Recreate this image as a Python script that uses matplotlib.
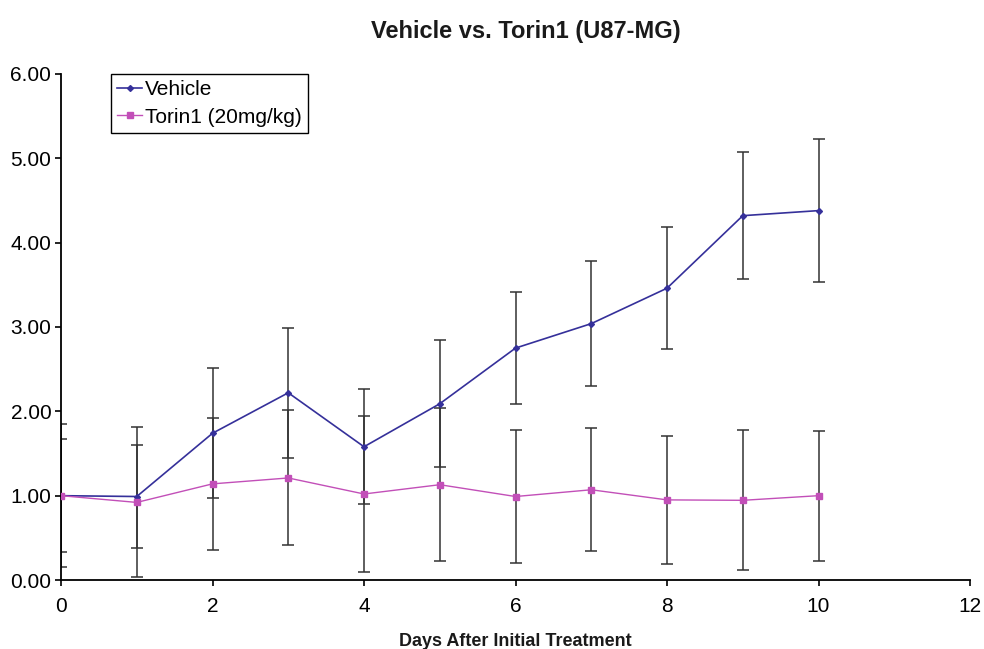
import matplotlib
matplotlib.use("Agg")
import matplotlib.pyplot as plt
import numpy as np

plt.rcParams['font.family'] = ['Liberation Sans', 'DejaVu Sans']

days = [0, 1, 2, 3, 4, 5, 6, 7, 8, 9, 10]
vehicle = [1.00, 0.99, 1.74, 2.22, 1.58, 2.09, 2.75, 3.04, 3.46, 4.32, 4.38]
vehicle_err = [0.85, 0.61, 0.77, 0.77, 0.68, 0.75, 0.66, 0.74, 0.72, 0.75, 0.85]
torin = [1.00, 0.92, 1.14, 1.21, 1.02, 1.13, 0.99, 1.07, 0.95, 0.945, 1.00]
torin_err = [0.67, 0.89, 0.78, 0.80, 0.92, 0.91, 0.79, 0.73, 0.76, 0.83, 0.77]

title = "Vehicle vs. Torin1 (U87-MG)"
xlabel = "Days After Initial Treatment"
xticks = [0, 2, 4, 6, 8, 10, 12]
yticks = [0, 1, 2, 3, 4, 5, 6]

fig = plt.figure(figsize=(9.84, 6.49), dpi=100)
ax = fig.add_axes([0.062, 0.1063, 0.9238, 0.7797])

vcol = '#35309a'
tcol = '#c24fb8'
ax.errorbar(days, vehicle, yerr=vehicle_err, fmt='none', ecolor='#333333',
            elinewidth=1.1, capsize=4, capthick=1.1, zorder=2)
ax.errorbar(days, torin, yerr=torin_err, fmt='none', ecolor='#333333',
            elinewidth=1.1, capsize=4, capthick=1.1, zorder=2)
ax.plot(days, vehicle, color=vcol, lw=1.2, marker='D', markersize=3,
        label='Vehicle', zorder=3)
ax.plot(days, torin, color=tcol, lw=1.0, marker='s', markersize=5,
        label='Torin1 (20mg/kg)', zorder=3)

ax.set_xlim(0, 12)
ax.set_ylim(0, 6)
ax.set_xticks(xticks)
ax.set_yticks(yticks)
ax.set_xticklabels([str(x) for x in xticks])
ax.set_yticklabels([f"{y:.2f}" for y in yticks])
ax.tick_params(axis='both', labelsize=15, direction='out', length=4, width=1.2, colors='black')
ax.tick_params(axis='x', pad=8)
ax.tick_params(axis='y', pad=3)
for s in ['top', 'right']:
    ax.spines[s].set_visible(False)
for s in ['left', 'bottom']:
    ax.spines[s].set_linewidth(1.3)
    ax.spines[s].set_color('black')

fig.text(0.534, 0.952, title, ha='center', va='center', fontsize=17, fontweight='bold', color='#1a1a1a')
fig.text(0.524, 0.012, xlabel, ha='center', va='center', fontsize=13, fontweight='bold', color='#1a1a1a')

leg = ax.legend(loc='upper left', bbox_to_anchor=(0.055, 1.0), fontsize=15, frameon=True,
                fancybox=False, framealpha=1, edgecolor='black', handlelength=1.2,
                handletextpad=0.15, borderpad=0.3, labelspacing=0.4, borderaxespad=0)
leg.get_frame().set_linewidth(1.0)

fig.savefig("out.png", dpi=100)
